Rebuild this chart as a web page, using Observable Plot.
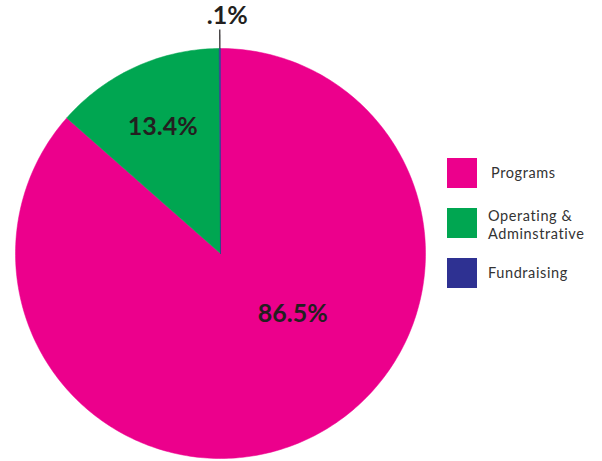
<!DOCTYPE html>
<html>
<head>
<meta charset="utf-8">
<script src="https://cdn.jsdelivr.net/npm/d3@7"></script>
<script src="https://cdn.jsdelivr.net/npm/@observablehq/plot@0.6"></script>
<style>
  html, body { margin: 0; padding: 0; background: #fff; }
  #wrap { position: relative; width: 602px; height: 461px; }
  #legend { position: absolute; left: 0; top: 0; width: 602px; height: 461px; pointer-events: none;
    font-family: Lato, "Noto Sans", sans-serif; color: #333; font-size: 14.5px; letter-spacing: 0.6px; }
  .sw { position: absolute; width: 30px; height: 30px; }
  .lb { position: absolute; line-height: 18px; white-space: nowrap; }
</style>
</head>
<body>
<div id="wrap"><div id="legend"></div></div>
<script>
// ---- data ----
const categories = ["Programs", "Operating & Adminstrative", "Fundraising"];
const legendLines = [["Programs"], ["Operating &", "Adminstrative"], ["Fundraising"]];
const values = [86.5, 13.4, 0.1];
const valueLabels = ["86.5%", "13.4%", ".1%"];
const colors = ["#EC008C", "#00A651", "#2E3192"];

// ---- geometry (unit circle, angle clockwise from 12 o'clock) ----
const total = d3.sum(values);
let acc = 0;
const slices = values.map((v, i) => {
  const a0 = acc / total * 2 * Math.PI;
  acc += v;
  const a1 = acc / total * 2 * Math.PI;
  return {cat: categories[i], a0, a1, i};
});
const pts = [];
for (const s of slices) {
  const n = Math.max(2, Math.ceil((s.a1 - s.a0) / (Math.PI / 180)));
  pts.push({cat: s.cat, x: 0, y: 0, k: 0});
  for (let j = 0; j <= n; j++) {
    const a = s.a0 + (s.a1 - s.a0) * j / n;
    pts.push({cat: s.cat, x: Math.sin(a), y: Math.cos(a), k: j + 1});
  }
  pts.push({cat: s.cat, x: 0, y: 0, k: n + 2});
}
// label placement: [angle override (deg) or null for mid-angle, radius]
const labelPlace = [[130, 0.46], [null, 0.68], [null, 1.16]];
const labels = slices.map((s, i) => {
  const deg = labelPlace[i][0] != null ? labelPlace[i][0] : (s.a0 + s.a1) / 2 * 180 / Math.PI;
  const a = deg * Math.PI / 180, r = labelPlace[i][1];
  return {text: valueLabels[i], x: Math.sin(a) * r, y: Math.cos(a) * r, i};
});
const fr = slices[2];
const midF = (fr.a0 + fr.a1) / 2;
const leader = [{x1: Math.sin(midF), y1: Math.cos(midF), x2: Math.sin(midF) * 1.093, y2: Math.cos(midF) * 1.093}];

const chart = Plot.plot({
  width: 602,
  height: 461,
  marginLeft: 15,
  marginRight: 177,
  marginTop: 48,
  marginBottom: 3,
  x: {domain: [-1, 1], axis: null},
  y: {domain: [-1, 1], axis: null},
  color: {domain: categories, range: colors},
  style: {background: "transparent", overflow: "visible"},
  marks: [
    Plot.line(pts, {x: "x", y: "y", z: "cat", fill: "cat", stroke: "cat", strokeWidth: 0.5, curve: "linear"}),
    Plot.link(leader, {x1: "x1", y1: "y1", x2: "x2", y2: "y2", stroke: "#231F20", strokeWidth: 1.2}),
    Plot.text(labels.filter(d => d.i < 2), {x: "x", y: "y", text: "text", fill: "#231F20",
      fontSize: 25, fontWeight: "bold", fontFamily: "Lato, sans-serif"}),
    Plot.text(labels.filter(d => d.i === 2), {x: "x", y: "y", text: "text", fill: "#231F20",
      fontSize: 25, fontWeight: "bold", fontFamily: "Lato, sans-serif", textAnchor: "start", dx: -13})
  ]
});
document.getElementById("wrap").prepend(chart);
chart.style.position = "absolute";
chart.style.left = "0"; chart.style.top = "0";

// legend
const lg = document.getElementById("legend");
const swTop = [158, 207.5, 258];
const txtTop = [[164], [207, 225], [264]];
const txtLeft = [491, 488, 488];
categories.forEach((c, i) => {
  const sw = document.createElement("div");
  sw.className = "sw";
  sw.style.left = "447px"; sw.style.top = swTop[i] + "px"; sw.style.background = colors[i];
  lg.appendChild(sw);
  legendLines[i].forEach((t, j) => {
    const d = document.createElement("div");
    d.className = "lb";
    d.style.left = txtLeft[i] + "px"; d.style.top = txtTop[i][j] + "px";
    d.textContent = t;
    lg.appendChild(d);
  });
});
</script>
</body>
</html>
